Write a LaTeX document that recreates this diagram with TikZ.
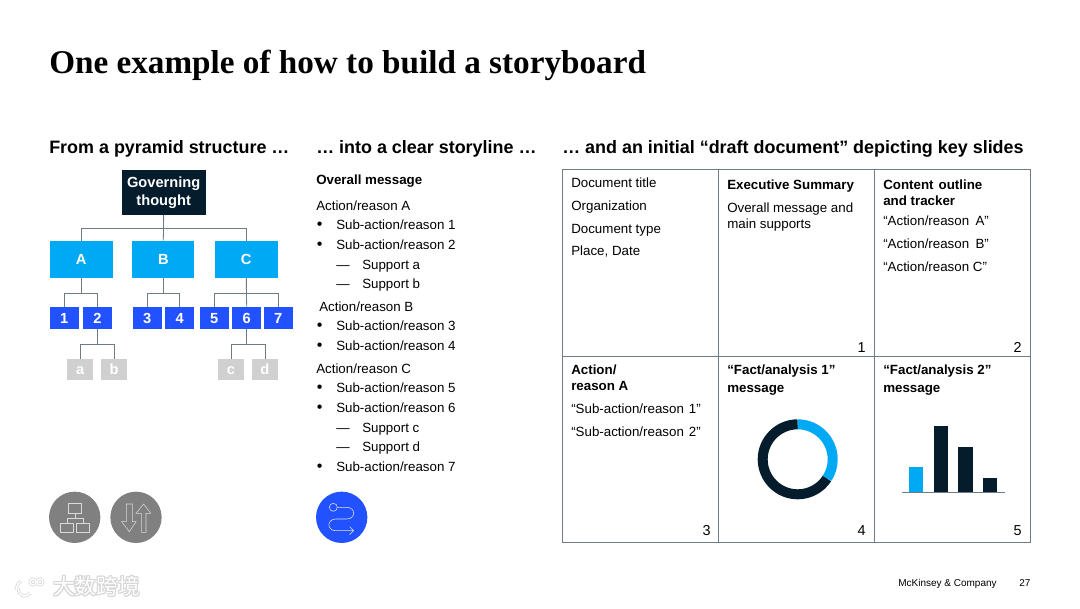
\documentclass[tikz,border=0pt]{standalone}
\usepackage{fontspec}
\setmainfont{Liberation Sans}
\newfontfamily\titlefont{Liberation Serif}
\newfontfamily\cjkfont{Noto Sans CJK SC}
\usetikzlibrary{arrows.meta, positioning, calc}
\definecolor{navycol}{HTML}{051C2C}
\definecolor{cyancol}{HTML}{00A9F4}
\definecolor{bluecol}{HTML}{2251FF}
\definecolor{palecol}{HTML}{D0D0D0}
\definecolor{greycol}{HTML}{808080}
\definecolor{linecol}{HTML}{6F7B85}
\begin{document}
\begin{tikzpicture}[
  x=0.75pt, y=-0.75pt,
  head/.style={anchor=base west, font=\bfseries\fontsize{13.45}{16}\selectfont, text=black, inner sep=0pt},
  txt/.style={anchor=base west, font=\fontsize{10}{12}\selectfont, text=black, inner sep=0pt},
  btxt/.style={txt, font=\bfseries\fontsize{10}{12}\selectfont},
  num/.style={anchor=base east, font=\fontsize{10.8}{12}\selectfont, text=black, inner sep=0pt},
  gov/.style={fill=navycol, text=white, minimum width=63pt, minimum height=33.75pt, inner sep=0pt,
    align=center, font=\bfseries\fontsize{11}{13.5}\selectfont},
  lvla/.style={fill=cyancol, text=white, minimum width=47pt, minimum height=27.75pt, inner sep=0pt,
    text height=8pt, text depth=0pt, font=\bfseries\fontsize{11}{13}\selectfont},
  lvlb/.style={fill=bluecol, text=white, minimum width=21.75pt, minimum height=16.5pt, inner sep=0pt,
    text height=8pt, text depth=0pt, font=\bfseries\fontsize{11}{13}\selectfont},
  lvlc/.style={fill=palecol, text=white, minimum width=19.75pt, minimum height=15.75pt, inner sep=0pt,
    text height=8pt, text depth=0pt, font=\bfseries\fontsize{11}{13}\selectfont},
  conn/.style={draw=linecol, line width=0.6pt},
  badge/.style={circle, minimum size=38.5pt, inner sep=0pt},
  icon/.style={draw=white!85!black, line width=0.4pt},
  grid/.style={draw=linecol, line width=0.6pt},
  stamp/.style={anchor=base west, inner sep=0pt, font=\cjkfont\fontsize{16.2}{18}\selectfont},
  logo/.style={draw=black!16, line width=2.2pt},
  logotop/.style={draw=white, line width=1.1pt},
]
\useasboundingbox (0,0) rectangle (1080,608);

% Title and column heads
\node[anchor=base west, inner sep=0pt, font=\titlefont\bfseries\fontsize{24.9}{28}\selectfont] (title) at (49,73)
  {One example of how to build a storyboard};
\node[head] (headone) at (49,153) {From a pyramid structure …};
\node[head] (headtwo) at (316,153) {… into a clear storyline …};
\node[head] (headthree) at (562,153) {… and an initial “draft document” depicting key slides};

% Pyramid
\node[gov] (govern) at (163.7,192.5) {Governing\\thought};
\node[lvla] (A) at (81.2,259.5) {A};
\node[lvla, minimum width=46.5pt] (B) at (163.3,259.5) {B};
\node[lvla] (C) at (246.2,259.5) {C};
\foreach \name/\xpos in {1/64.3, 2/97.5, 3/147.3, 4/179.8, 5/214.3, 6/246.7, 7/278.3}
  \node[lvlb] (n\name) at (\xpos,318) {\name};
\foreach \name/\xpos in {a/80.2, b/114.2, c/230.9, d/264.9}
  \node[lvlc] (n\name) at (\xpos,369.5) {\name};

\draw[conn] (govern.south) -- ++(0,13.3) -| (A.north);
\draw[conn] (govern.south) -- ++(0,13.3) -| (C.north);
\draw[conn] (govern.south) -- (B.north);
\draw[conn] (A.south) -- ++(0,15.3) -| (n1.north);
\draw[conn] (A.south) -- ++(0,15.3) -| (n2.north);
\draw[conn] (B.south) -- ++(0,15.3) -| (n3.north);
\draw[conn] (B.south) -- ++(0,15.3) -| (n4.north);
\draw[conn] (C.south) -- ++(0,15.3) -| (n5.north);
\draw[conn] (C.south) -- ++(0,15.3) -| (n7.north);
\draw[conn] (C.south) -- (n6.north);
\draw[conn] (n2.south) -- ++(0,14.7) -| (na.north);
\draw[conn] (n2.south) -- ++(0,14.7) -| (nb.north);
\draw[conn] (n6.south) -- ++(0,14.7) -| (nc.north);
\draw[conn] (n6.south) -- ++(0,14.7) -| (nd.north);

% Storyline
\node[btxt] (overall) at (316,184) {Overall message};
\foreach \ypos/\label in {210/A, 373/C}
  \node[txt] at (316,\ypos) {Action/reason \label};
\node[txt] at (319,311) {Action/reason B};
\foreach \ypos/\label in {229/1, 249/2, 330/3, 350/4, 392/5, 412/6, 471/7} {
  \node[txt, font=\fontsize{12}{12}\selectfont] at (316.5,\ypos) {•};
  \node[txt] at (336,\ypos) {Sub-action/reason \label};
}
\foreach \ypos/\label in {269/a, 288/b, 432/c, 451/d} {
  \node[txt] at (336,\ypos) {—};
  \node[txt] at (362,\ypos) {Support \label};
}

% Draft document
\draw[grid] (562.5,169.5) rectangle (1030.5,542.5);
\draw[grid] (718.5,169.5) -- (718.5,542.5);
\draw[grid] (874.5,169.5) -- (874.5,542.5);
\draw[grid] (562.5,356.5) -- (1030.5,356.5);

\node[txt] at (571,187) {Document title};
\node[txt] at (571,210) {Organization};
\node[txt] at (571,233) {Document type};
\node[txt] at (571,255) {Place, Date};
\node[btxt] at (727,189) {Executive Summary};
\node[txt] at (727,212) {Overall message and};
\node[txt] at (727,228) {main supports};
\node[btxt] at (883,189) {Content\hspace{1pt} outline};
\node[btxt] at (883,205) {and tracker};
\node[txt] at (883,225) {“Action/reason\hspace{2pt} A”};
\node[txt] at (883,248) {“Action/reason\hspace{2pt} B”};
\node[txt] at (883,271) {“Action/reason C”};
\node[btxt] at (571,374) {Action/};
\node[btxt] at (571,390) {reason A};
\node[txt] at (571,413.5) {“Sub-action/reason\hspace{1pt} 1”};
\node[txt] at (571,436) {“Sub-action/reason\hspace{1pt} 2”};
\node[btxt] at (727,374) {“Fact/analysis 1”};
\node[btxt] at (727,392) {message};
\node[btxt] at (883,374) {“Fact/analysis 2”};
\node[btxt] at (883,392) {message};
\node[num] at (866,352) {1};
\node[num] at (1022,352) {2};
\node[num] at (711,535) {3};
\node[num] at (866,535) {4};
\node[num] at (1022,535) {5};

% Donut
\coordinate (donut) at (797.7,459.3);
\draw[navycol, line width=7.5pt] ([shift={(0,-35)}]donut) arc[start angle=-90, delta angle=-237, radius=35];
\draw[cyancol, line width=7.5pt] ([shift={(0,-35)}]donut) arc[start angle=-90, end angle=33, radius=35];

% Bars
\fill[cyancol] (909,467) rectangle (923.3,492.3);
\fill[navycol] (933.7,425.7) rectangle (948.3,492.3);
\fill[navycol] (958.3,446.7) rectangle (972.7,492.3);
\fill[navycol] (983,477.7) rectangle (997.3,492.3);
\draw[grid] (901.7,492.3) -- (1005,492.3);

% Badges
\node[badge, fill=greycol] (badgeone) at (74.7,517.3) {};
\node[badge, fill=greycol] (badgetwo) at (136,517.3) {};
\node[badge, fill=bluecol] (badgethree) at (341.7,517.3) {};
\draw[icon] (68.3,503.3) rectangle (81.7,513.3);
\draw[icon] (60.3,523) rectangle (73.3,532.3);
\draw[icon] (76.3,523) rectangle (89.3,532.3);
\draw[icon] (75,513.3) -- (75,518) (66.8,523) -- (66.8,518) -- (82.8,518) -- (82.8,523);
\draw[icon] (126.3,504) -- (132.3,504) -- (132.3,521.7) -- (136,521.7) -- (129.3,531.7)
  -- (121.7,521.7) -- (126.3,521.7) -- cycle;
\draw[icon] (141.3,532.3) -- (146,532.3) -- (146,513.3) -- (150.7,513.3) -- (143.7,504)
  -- (136,513.3) -- (141.3,513.3) -- cycle;
\draw[icon, white!90!black] (333.3,507.3) circle[radius=4];
\draw[icon, white!90!black, -{Straight Barb[length=3pt, width=6pt]}] (337.3,507.3) -- (346.7,507.3)
  .. controls (356,507.3) and (356,519) .. (346.7,519) -- (336,519)
  .. controls (326.5,519) and (326.5,530.7) .. (336,530.7) -- (354,530.7);

% Footer
\node[anchor=base west, inner sep=0pt, font=\fontsize{7.5}{9}\selectfont] (firm) at (898,586) {McKinsey \& Company};
\node[anchor=base west, inner sep=0pt, font=\fontsize{7.5}{9}\selectfont] (page) at (1019,586) {27};

% Watermark
\foreach \dx/\dy in {-1/0, 1/0, 0/-1, 0/1, -1/-1, 1/1, 1/-1, -1/1}
  \node[stamp, text=black!16] at (53+\dx,594+\dy) {大数跨境};
\node[stamp, text=white] (mark) at (53,594) {大数跨境};
\foreach \pen in {logo, logotop} {
  \draw[\pen] (13,581) -- (13,597);
  \draw[\pen] (16,590) .. controls (17,584) and (19,582) .. (21,581);
  \draw[\pen] (18,588) .. controls (19,596) and (25,599) .. (30,593);
  \draw[\pen] (27,578) -- (27,586);
  \draw[\pen] (33,582) circle[radius=3];
  \draw[\pen] (40,582) circle[radius=3];
}
\end{tikzpicture}
\end{document}
